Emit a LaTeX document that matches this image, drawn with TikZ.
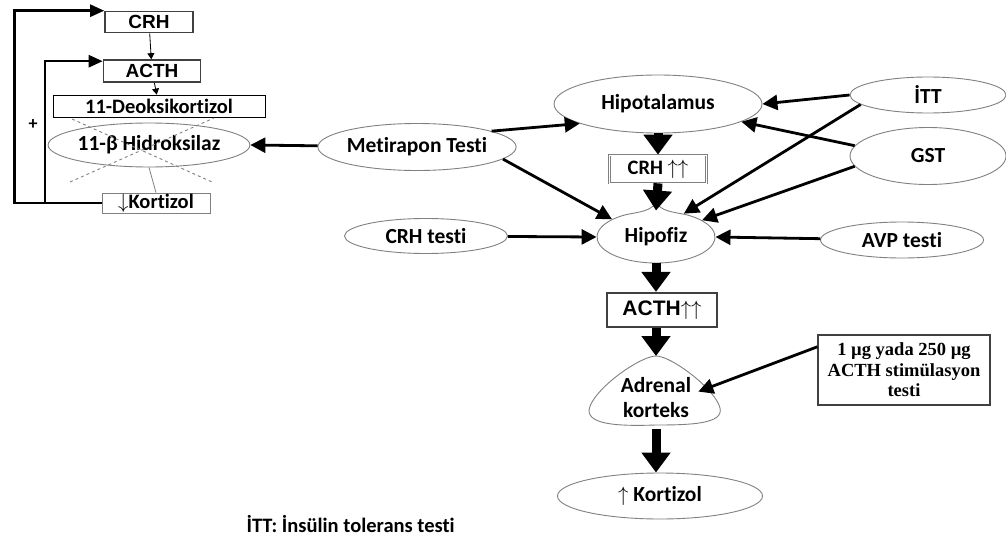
\documentclass[tikz,border=0pt]{standalone}
\usepackage{fontspec}
\setmainfont{Carlito}[Ligatures=NoCommon]
\newfontfamily\arialfont{Liberation Sans}
\newfontfamily\timesfont{Liberation Serif}
\usepackage{tikz}
\usetikzlibrary{positioning,shapes.geometric,arrows.meta}

\begin{document}
\begin{tikzpicture}[%
    x=1pt, y=-1pt,
    oval/.style={%
      ellipse,
      draw=gray,
      line width=0.9pt,
      inner sep=0pt,
      font=\bfseries\fontsize{21.5}{23}\selectfont
    },
    smallbox/.style={%
      rectangle,
      draw=darkgray,
      line width=1.6pt,
      inner sep=0pt,
      font=\arialfont\bfseries\fontsize{19}{21}\selectfont
    },
    plainbox/.style={%
      rectangle,
      draw,
      line width=0.8pt,
      inner sep=0pt,
      font=\bfseries\fontsize{20.5}{22}\selectfont
    },
    bigarrow/.style={line width=9pt, -{Triangle[length=20pt,width=28pt]}},
    midarrow/.style={line width=2.8pt, -{Triangle[length=15pt,width=15pt]}},
    thinarrow/.style={line width=0.8pt, -{Triangle[length=6pt,width=7pt]}},
    feedback/.style={line width=2.6pt, -{Triangle[length=14pt,width=12pt]}}
  ]
    \useasboundingbox (0,0) rectangle (1006,543);

    % left part: feedback of the enzyme block
    \node[smallbox, minimum width=88, minimum height=21] (crhL)   at (149,22)  {CRH};
    \node[smallbox, minimum width=97, minimum height=22] (acthL)  at (152,71)  {ACTH};
    \node[plainbox, minimum width=212, minimum height=22] (deoks) at (159,106) {11-Deoksikortizol};
    \node[oval, minimum width=192, minimum height=44] (hidrok)    at (149,145) {11-β Hidroksilaz};
    \node[plainbox, draw=gray, minimum width=108, minimum height=20] (kortL) at (156,203) {$\downarrow$Kortizol};
    \node[font=\bfseries\fontsize{18}{20}\selectfont] (plus) at (33,125) {+};

    \draw[gray, dashed, line width=0.9pt] (72,119) -- (212,182)
                                          (70,182) -- (214,118);
    \draw[gray, line width=0.8pt] (hidrok.south) -- (kortL.north);
    \path (crhL) edge[thinarrow] (acthL)
          (acthL) edge[thinarrow] (deoks);
    \coordinate (split) at (45,203);
    \draw[feedback] (kortL.west) -- ++(-87,0) |- (crhL.north west);
    \draw[feedback] (split) |- ([yshift=-2pt]acthL.north west);

    % right part: tests
    \node[oval, minimum width=208, minimum height=58] (hipotal) at (658,104) {Hipotalamus};
    \node[oval, minimum width=173, minimum height=47] (metir)   at (417,147) {Metirapon Testi};
    \node[oval, minimum width=156, minimum height=36] (itt)     at (928,95)  {İTT};
    \node[oval, minimum width=156, minimum height=57] (gst)     at (928,156) {GST};
    \node[plainbox, draw=gray, double, double distance=1pt, line width=0.7pt, minimum width=97, minimum height=28] (crhup) at (658,169) {CRH $\uparrow\uparrow$};
    \node[oval, draw=none, minimum width=118, minimum height=52] (hipofiz) at (656,237) {Hipofiz};
    \node[oval, minimum width=163, minimum height=35] (crhtest) at (426,236) {CRH testi};
    \node[oval, minimum width=163, minimum height=36] (avp)     at (902,240) {AVP testi};
    \node[smallbox, line width=2.2pt, minimum width=110, minimum height=34, font=\arialfont\bfseries\fontsize{21}{23}\selectfont] (acthup) at (662,310) {ACTH$\uparrow\uparrow$};
    \node[font=\bfseries\fontsize{21.5}{25}\selectfont, align=center, inner sep=1pt] (adrenal) at (656,398) {Adrenal\\korteks};
    \coordinate (adrtop) at (656,356);
    \node[rectangle, draw=darkgray, line width=1.2pt, minimum width=172, minimum height=70, align=center,
          font=\timesfont\bfseries\fontsize{18.5}{20.5}\selectfont] (stim) at (904,370) {1 µg yada 250 µg\\ACTH stimülasyon\\testi};
    \node[oval, minimum width=205, minimum height=46] (kortup)  at (660,496) {$\uparrow$ Kortizol};
    \node[font=\bfseries\fontsize{20.5}{22}\selectfont, anchor=west] (note) at (243,524) {İTT: İnsülin tolerans testi};

    % shapes of Hipofiz and adrenal cortex
    \draw[gray, line width=0.9pt] (656,203) .. controls (650,211) and (640,212) .. (626.5,214.5)
      arc[start angle=120, end angle=420, x radius=59pt, y radius=26pt]
      .. controls (672,212) and (662,211) .. (656,203);
    \draw[gray, line width=0.9pt] (adrtop) .. controls (640,356) and (592,390) .. (589,410)
      .. controls (588,426) and (625,426) .. (656,425)
      .. controls (690,425) and (724,424) .. (720,408)
      .. controls (716,390) and (672,356) .. (adrtop);

    \path (metir) edge[midarrow] (hidrok.east)
          (metir.12) edge[midarrow] (hipotal.194)
          (metir.-8) edge[midarrow] (hipofiz.158)
          (crhtest) edge[midarrow] (hipofiz.west)
          (avp) edge[midarrow] (hipofiz.east)
          (itt.west) edge[midarrow] (hipotal.east)
          (itt.188) edge[midarrow] (hipofiz.40)
          (gst.172) edge[midarrow] (hipotal.-12)
          (gst.188) edge[midarrow] (hipofiz.20)
          (stim.165) edge[midarrow] ([xshift=6pt]adrenal.10)
          ;
    \draw[bigarrow] (hipotal.south) -- (hipotal.south |- crhup.north);
    \draw[bigarrow] (crhup.south) -- (hipofiz.north);
    \draw[bigarrow] (hipofiz.south) -- (hipofiz.south |- acthup.north);
    \draw[bigarrow] (hipofiz.south |- acthup.south) -- (adrtop);
    \draw[bigarrow, shorten <=10pt] (hipofiz.south |- adrenal.south) -- (hipofiz.south |- kortup.north);
  \end{tikzpicture}
\end{document}
